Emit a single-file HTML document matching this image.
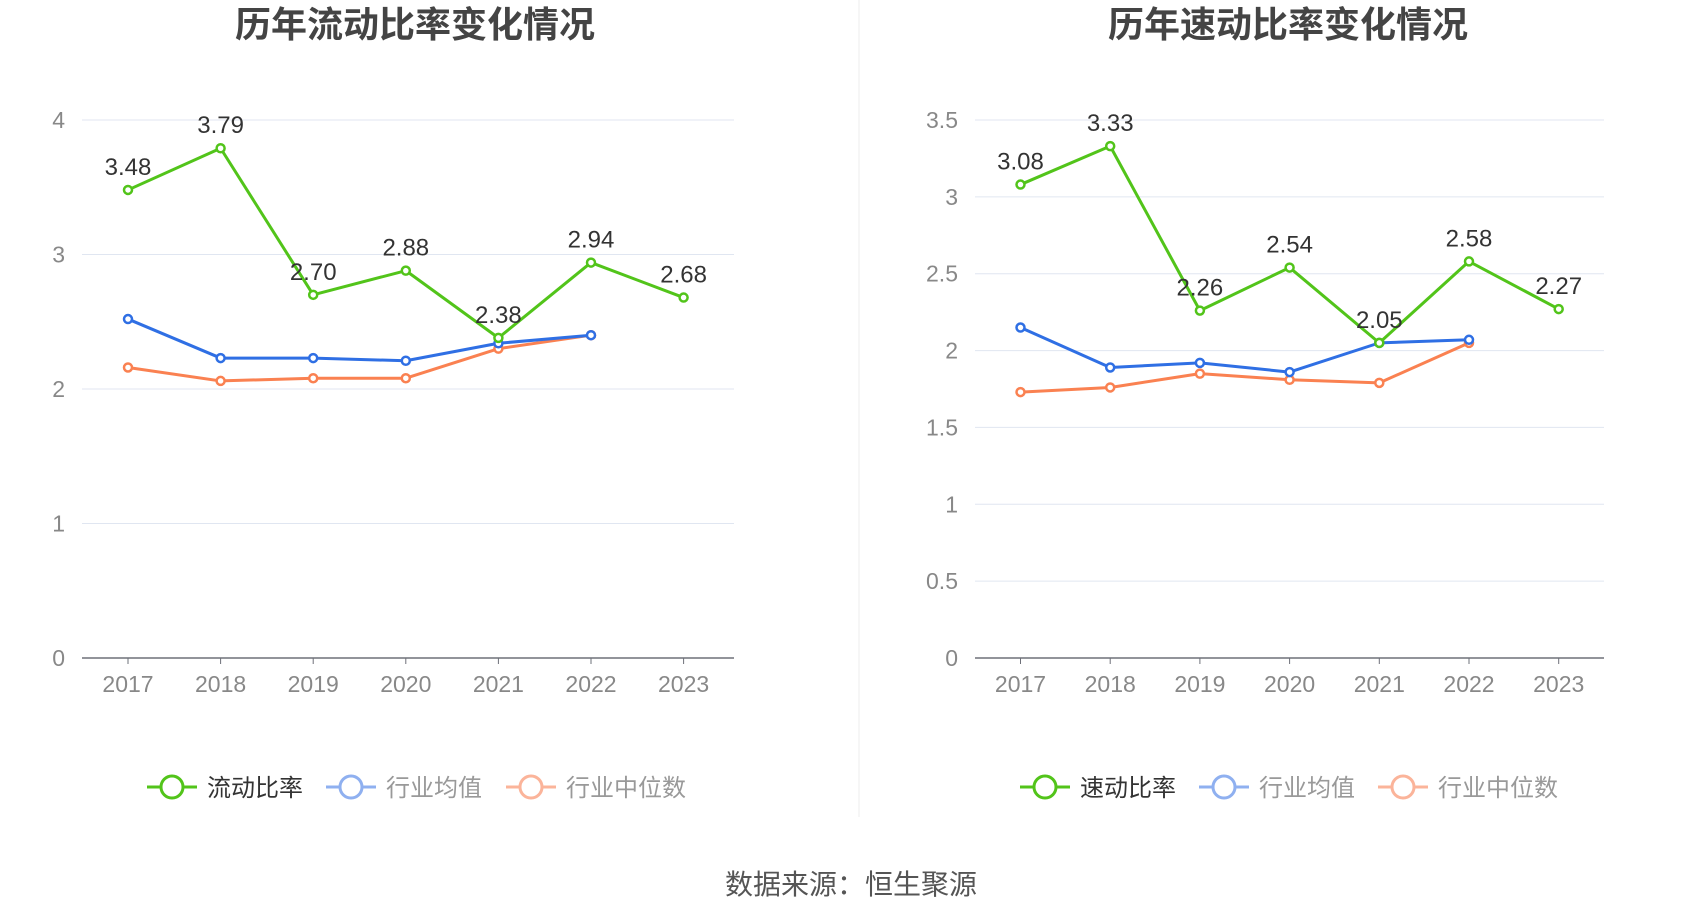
<!DOCTYPE html>
<html><head><meta charset="utf-8"><style>
body{margin:0;background:#fff;}
svg text{font-family:"Liberation Sans","Noto Sans CJK SC",sans-serif;}
</style></head><body>
<svg id="svg" width="1700" height="918" xmlns="http://www.w3.org/2000/svg">
<line x1="859" y1="0" x2="859" y2="817" stroke="#eee" stroke-width="1"/>
<text x="415" y="37" text-anchor="middle" font-size="36" font-weight="bold" fill="#444">历年流动比率变化情况</text>
<text x="1288" y="37" text-anchor="middle" font-size="36" font-weight="bold" fill="#444">历年速动比率变化情况</text>
<text x="851" y="894" text-anchor="middle" font-size="28" fill="#555">数据来源：恒生聚源</text>
<g id="left"></g>
<g id="right"></g>
</svg>
<script>
const years = ["2017","2018","2019","2020","2021","2022","2023"];
const leftMain = [3.48,3.79,2.70,2.88,2.38,2.94,2.68];
const leftAvg = [2.52,2.23,2.23,2.21,2.34,2.40];
const leftMed = [2.16,2.06,2.08,2.08,2.30,2.40];
const leftTicks = [0,1,2,3,4];
const rightMain = [3.08,3.33,2.26,2.54,2.05,2.58,2.27];
const rightAvg = [2.15,1.89,1.92,1.86,2.05,2.07];
const rightMed = [1.73,1.76,1.85,1.81,1.79,2.05];
const rightTicks = [0,0.5,1,1.5,2,2.5,3,3.5];
const NS="http://www.w3.org/2000/svg";
function mk(p,tag,attrs){const e=document.createElementNS(NS,tag);for(const k in attrs)e.setAttribute(k,attrs[k]);p.appendChild(e);return e;}
function chart(g,cfg){
  const y0=658,y1=120,max=cfg.ticks[cfg.ticks.length-1];
  const Y=v=>y0-(v/max)*(y0-y1);
  const X=i=>cfg.x0+i*cfg.dx;
  cfg.ticks.forEach(t=>{
    if(t>0){const l=mk(g,'line',{x1:cfg.ax0,x2:cfg.ax1,y1:Y(t),y2:Y(t),stroke:'#e0e6f1','stroke-width':1});
    
    }
    const tx=mk(g,'text',{x:cfg.lx,y:Y(t)+8,'text-anchor':'end','font-size':23,fill:'#888'});tx.textContent=t;
    
    
  });
  const ax=mk(g,'line',{x1:cfg.ax0,x2:cfg.ax1,y1:y0,y2:y0,stroke:'#6e7079','stroke-width':1.5});
  
  
  years.forEach((yr,i)=>{
    const tk=mk(g,'line',{x1:X(i),x2:X(i),y1:y0,y2:y0+6,stroke:'#6e7079'});
    
    
    const t=mk(g,'text',{x:X(i),y:y0+34,'text-anchor':'middle','font-size':23,fill:'#888'});t.textContent=yr;
    
    
  });
  const series=[[cfg.med,'#fa8151','median'],[cfg.avg,'#2f6fe4','average'],[cfg.main,'#52c41a','main']];
  series.forEach(([arr,c,n])=>{
    const pl=mk(g,'polyline',{points:arr.map((v,i)=>X(i)+','+Y(v)).join(' '),fill:'none',stroke:c,'stroke-width':3,'stroke-linejoin':'round'});
    
    
    arr.forEach((v,i)=>{
      const ci=mk(g,'circle',{cx:X(i),cy:Y(v),r:4,fill:'#fff',stroke:c,'stroke-width':2.5});
      
      
    });
  });
  cfg.main.forEach((v,i)=>{
    const t=mk(g,'text',{x:X(i),y:Y(v)-15,'text-anchor':'middle','font-size':24,fill:'#333'});t.textContent=v.toFixed(2);
    
    
  });
  const leg=[[cfg.name,'#52c41a','#333'],['行业均值','#8fb0f0','#999'],['行业中位数','#fbb49a','#999']];
  leg.forEach(([name,c,tc],k)=>{
    const lx=cfg.legX[k];
    const lg=mk(g,'g',{});
    
    
    mk(lg,'line',{x1:lx,x2:lx+50,y1:787,y2:787,stroke:c,'stroke-width':3});
    mk(lg,'circle',{cx:lx+25,cy:787,r:11,fill:'#fff',stroke:c,'stroke-width':3});
    const t=mk(lg,'text',{x:lx+60,y:796,'font-size':24,fill:tc});t.textContent=name;
  });
}
chart(document.getElementById('left'),{x0:128,dx:92.6,ax0:82,ax1:734,lx:65,ticks:leftTicks,main:leftMain,avg:leftAvg,med:leftMed,name:'流动比率',legX:[147,326,506]});
chart(document.getElementById('right'),{x0:1020.5,dx:89.7,ax0:975,ax1:1604,lx:958,ticks:rightTicks,main:rightMain,avg:rightAvg,med:rightMed,name:'速动比率',legX:[1020,1199,1378]});
</script>
</body></html>
